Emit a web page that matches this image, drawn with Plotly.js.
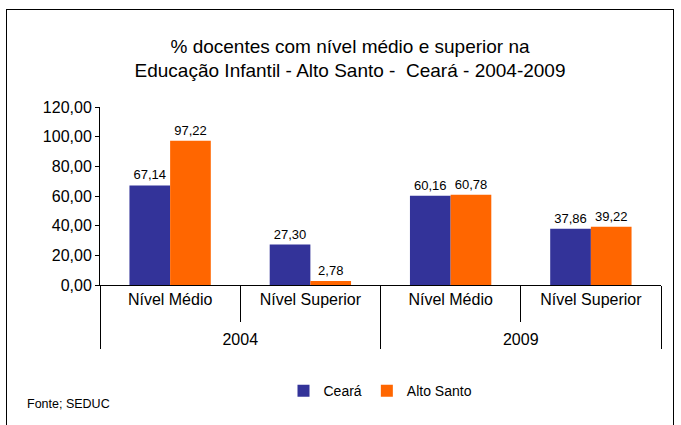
<!DOCTYPE html>
<html>
<head>
<meta charset="utf-8">
<script src="https://cdn.plot.ly/plotly-3.0.1.min.js"></script>
<style>
  html, body { margin: 0; padding: 0; background: #fff; }
  #wrap { position: relative; width: 681px; height: 425px; }
  #chart { position: absolute; left: 0; top: 0; width: 681px; height: 425px; }
  #frame { position: absolute; left: 6px; top: 9px; width: 666px; height: 430px; border: 1px solid #000; pointer-events: none; }
</style>
</head>
<body>
<div id="wrap">
  <div id="chart"></div>
  <div id="frame"></div>
</div>
<script>
const years = ['2004', '2004', '2009', '2009'];
const levels = ['Nível Médio', 'Nível Superior', 'Nível Médio', 'Nível Superior'];
const ceara = [67.14, 27.30, 60.16, 37.86];
const altoSanto = [97.22, 2.78, 60.78, 39.22];
const yTicks = [0, 20, 40, 60, 80, 100, 120];

const fmt = v => v.toFixed(2).replace('.', ',');
const FONT = 'Liberation Sans, Arial, sans-serif';
// outer (year) labels sit one line lower, as in the original
const yearLabels = years.map(y => ' <br>' + y);

const traces = [
  {
    type: 'bar', name: 'Ceará', x: [yearLabels, levels], y: ceara,
    marker: { color: '#333399' },
    text: ceara.map(fmt), textposition: 'outside', cliponaxis: false,
    textfont: { family: FONT, size: 13, color: '#000' }
  },
  {
    type: 'bar', name: 'Alto Santo', x: [yearLabels, levels], y: altoSanto,
    marker: { color: '#FF6600' },
    text: altoSanto.map(fmt), textposition: 'outside', cliponaxis: false,
    textfont: { family: FONT, size: 13, color: '#000' }
  }
];

const layout = {
  width: 681, height: 425,
  margin: { l: 100, r: 20, t: 107, b: 140 },
  paper_bgcolor: '#fff', plot_bgcolor: '#fff',
  font: { family: FONT, color: '#000' },
  separators: ',.',
  title: {
    text: '% docentes com nível médio e superior na<br>Educação Infantil - Alto Santo -  Ceará - 2004-2009',
    font: { family: FONT, size: 19, color: '#000' },
    x: 0.514, xanchor: 'center', y: 0.876, yanchor: 'middle'
  },
  barmode: 'group', bargap: 0.42, bargroupgap: 0,
  xaxis: {
    type: 'multicategory',
    showline: true, linecolor: '#000', linewidth: 1,
    ticks: 'outside', ticklen: 36, tickcolor: '#000', tickson: 'boundaries',
    showdividers: true, dividercolor: '#000', dividerwidth: 1,
    tickfont: { family: FONT, size: 16, color: '#000' },
    showgrid: false, zeroline: false
  },
  yaxis: {
    range: [0, 120], tickvals: yTicks, tickformat: '.2f',
    showline: true, linecolor: '#000', linewidth: 1,
    ticks: 'outside', ticklen: 4, tickcolor: '#000',
    tickfont: { family: FONT, size: 16, color: '#000' },
    showgrid: false, zeroline: false
  },
  showlegend: true,
  legend: {
    orientation: 'h', x: 0.5, xanchor: 'center', y: -0.596, yanchor: 'middle',
    font: { family: FONT, size: 14, color: '#000' },
    itemwidth: 30, traceorder: 'normal'
  },
  annotations: [
    {
      text: 'Fonte; SEDUC', xref: 'paper', yref: 'paper',
      x: -0.134, y: -0.669, xanchor: 'left', yanchor: 'middle', showarrow: false,
      font: { family: FONT, size: 12.5, color: '#000' }
    }
  ]
};

Plotly.newPlot('chart', traces, layout, { displayModeBar: false, staticPlot: true });
</script>
</body>
</html>
